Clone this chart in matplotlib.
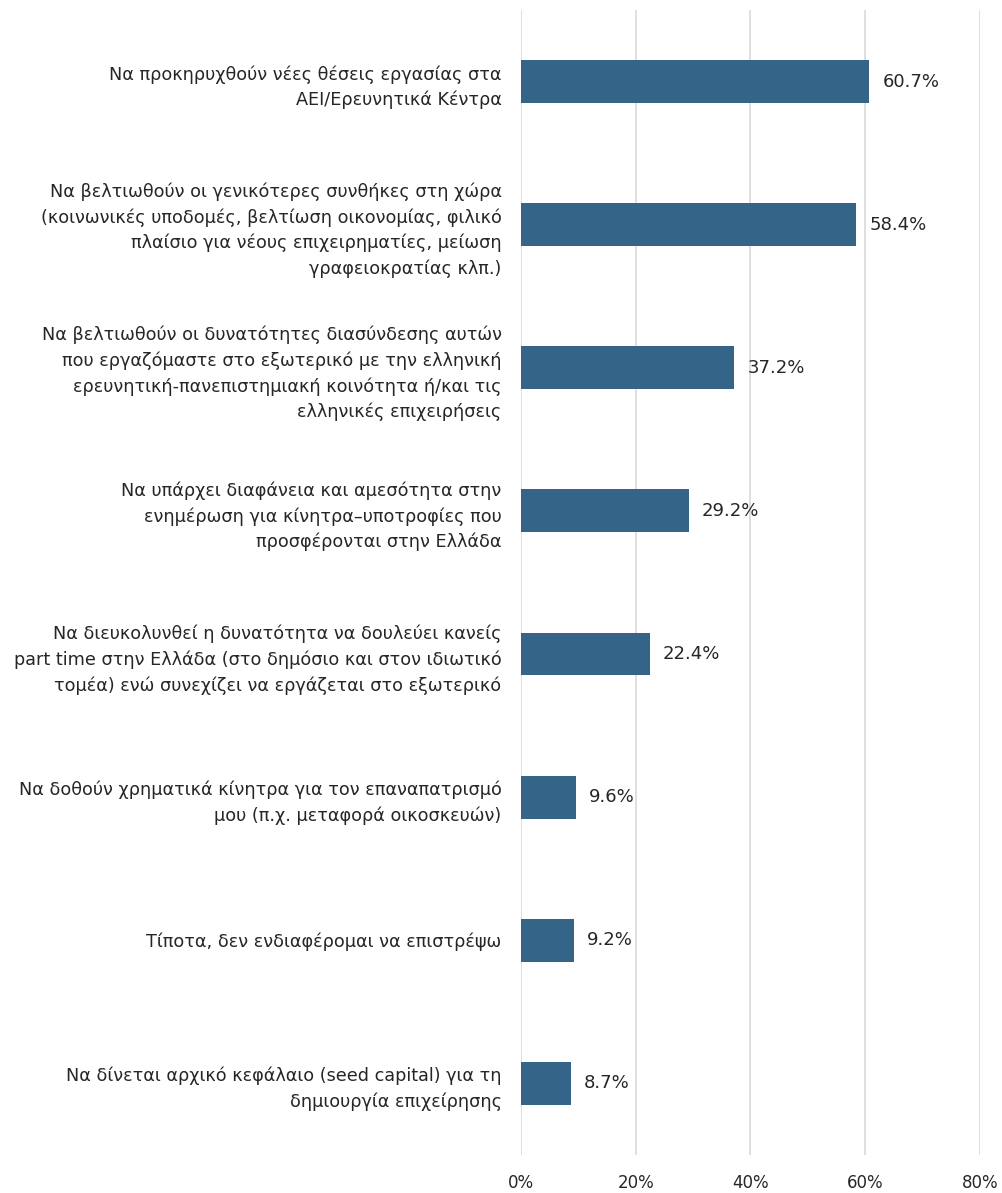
import matplotlib.pyplot as plt
from matplotlib.ticker import FuncFormatter

labels = [
    "Να προκηρυχθούν νέες θέσεις εργασίας στα\nΑΕΙ/Ερευνητικά Κέντρα",
    "Να βελτιωθούν οι γενικότερες συνθήκες στη χώρα\n(κοινωνικές υποδομές, βελτίωση οικονομίας, φιλικό\nπλαίσιο για νέους επιχειρηματίες, μείωση\nγραφειοκρατίας κλπ.)",
    "Να βελτιωθούν οι δυνατότητες διασύνδεσης αυτών\nπου εργαζόμαστε στο εξωτερικό με την ελληνική\nερευνητική-πανεπιστημιακή κοινότητα ή/και τις\nελληνικές επιχειρήσεις",
    "Να υπάρχει διαφάνεια και αμεσότητα στην\nενημέρωση για κίνητρα–υποτροφίες που\nπροσφέρονται στην Ελλάδα",
    "Να διευκολυνθεί η δυνατότητα να δουλεύει κανείς\npart time στην Ελλάδα (στο δημόσιο και στον ιδιωτικό\nτομέα) ενώ συνεχίζει να εργάζεται στο εξωτερικό",
    "Να δοθούν χρηματικά κίνητρα για τον επαναπατρισμό\nμου (π.χ. μεταφορά οικοσκευών)",
    "Τίποτα, δεν ενδιαφέρομαι να επιστρέψω",
    "Να δίνεται αρχικό κεφάλαιο (seed capital) για τη\nδημιουργία επιχείρησης",
]
values = [60.7, 58.4, 37.2, 29.2, 22.4, 9.6, 9.2, 8.7]
xticks = [0, 20, 40, 60, 80]

BAR_COLOR = "#346589"
TEXT_COLOR = "#262626"

plt.rcParams['font.family'] = ['DejaVu Sans']

fig = plt.figure(figsize=(10.02, 11.93), dpi=100)
ax = fig.add_axes([0.52, 0.032, 0.458, 0.9596])

ypos = list(range(len(values)))
ax.barh(ypos, values, height=0.3, color=BAR_COLOR, zorder=3)

for y, v in zip(ypos, values):
    ax.text(v + 2.3, y, f"{v:.1f}%", va="center", ha="left",
            fontsize=13, color=TEXT_COLOR)

ax.set_xlim(0, 80)
ax.set_ylim(len(values) - 0.5, -0.5)
ax.set_xticks(xticks)
ax.xaxis.set_major_formatter(FuncFormatter(lambda x, p: f"{x:.0f}%"))
ax.set_yticks(ypos)
ax.set_yticklabels(labels, fontsize=12.7, color=TEXT_COLOR, linespacing=1.5)

ax.grid(axis="x", color="#d9d9d9", linewidth=1.2, zorder=0)
for s in ax.spines.values():
    s.set_visible(False)
ax.tick_params(axis="y", length=0, pad=14)
ax.tick_params(axis="x", length=0, pad=14, labelsize=12, labelcolor=TEXT_COLOR)

fig.savefig("out.png", dpi=100, facecolor="white")
